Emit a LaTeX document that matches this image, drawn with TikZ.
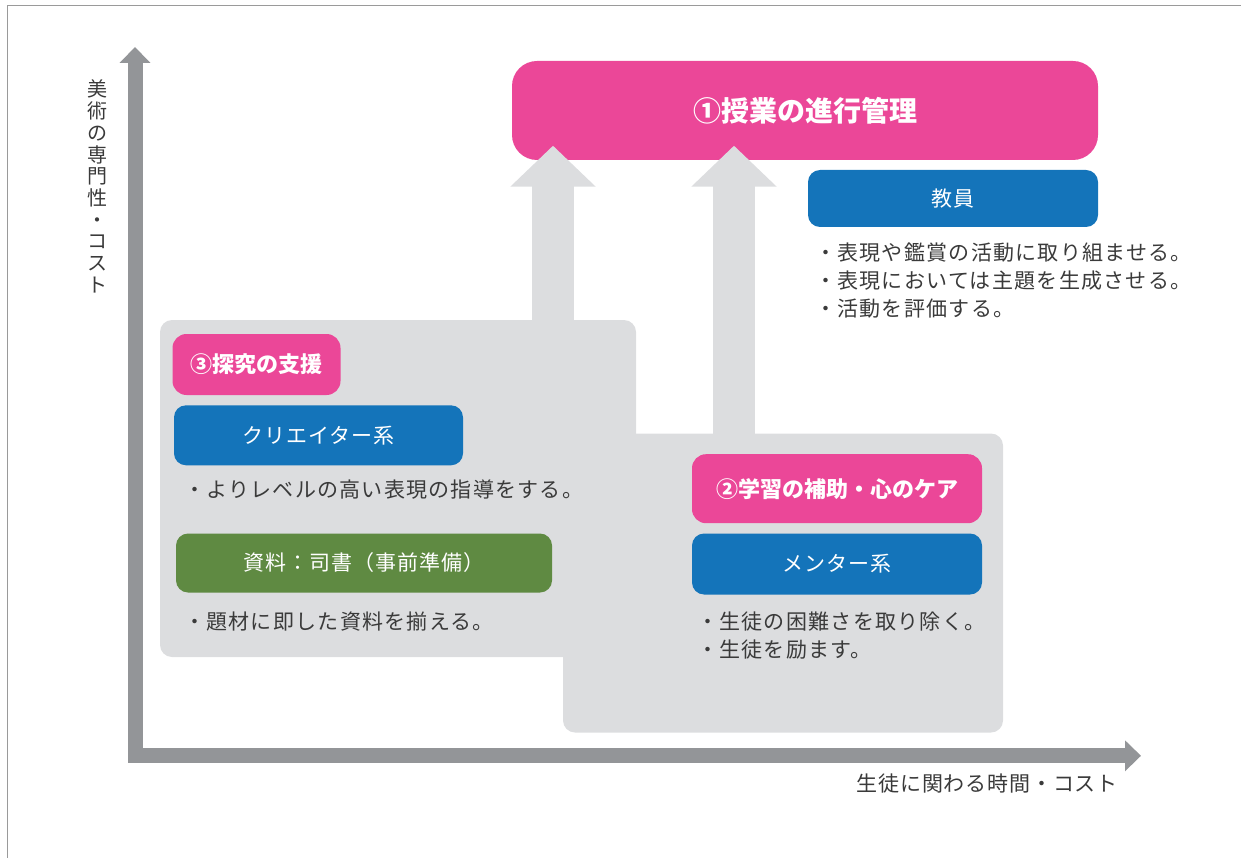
\documentclass[tikz,border=0pt]{standalone}
\usepackage{fontspec}
\setmainfont{Noto Sans CJK JP}
\usetikzlibrary{arrows.meta}
\definecolor{pinkc}{HTML}{EB4798}
\definecolor{bluec}{HTML}{1474BA}
\definecolor{greenc}{HTML}{5F8A42}
\definecolor{panelc}{HTML}{DCDDDF}
\definecolor{axisc}{HTML}{939598}
\definecolor{framec}{HTML}{9A9A9A}
\definecolor{textc}{HTML}{3A3A3A}
\tikzset{
  box/.style={inner sep=0pt, text=white},
  pinkbox/.style={box, fill=pinkc, font=\bfseries\fontsize{22}{26}\selectfont},
  bluebox/.style={box, fill=bluec, font=\fontsize{21}{25}\selectfont\addfontfeature{LetterSpace=5}, rounded corners=12pt},
  greenbox/.style={box, fill=greenc, font=\fontsize{21}{25}\selectfont\addfontfeature{LetterSpace=5}, rounded corners=12pt},
  panel/.style={fill=panelc, rounded corners=12pt, inner sep=0pt},
  note/.style={anchor=west, text=textc, align=left, inner sep=0pt, font=\fontsize{21}{28}\selectfont\addfontfeature{LetterSpace=6}},
  uparrow/.style={draw=panelc, line width=42pt, -{Triangle[width=83pt,length=41pt]}},
  axis/.style={draw=axisc, line width=15pt, line join=miter,
     {Triangle[width=30pt,length=16pt]}-{Triangle[width=30pt,length=16pt]}},
}
\begin{document}
\begin{tikzpicture}[x=1pt,y=-1pt]
\useasboundingbox (0,0) rectangle (1241,858);
% frame
\draw[framec, line width=1pt] (1241,6) -- (7,6) -- (7,858);

% panels
\node[panel, minimum width=476pt, minimum height=337pt] (panel3) at (398,488.5) {};
\node[panel, minimum width=440pt, minimum height=299pt] (panel2) at (783,583) {};

% top box
\node[pinkbox, rounded corners=25pt, minimum width=586pt, minimum height=99pt,
      font=\bfseries\fontsize{28}{32}\selectfont] (goal) at (805,110.5) {①授業の進行管理};

% up arrows
\coordinate (a1s) at (553,325);
\coordinate (a1t) at (553,145.7);
\coordinate (a2s) at (734,440);
\coordinate (a2t) at (734,145.7);
\draw[uparrow] (a1s) -- (a1t);
\draw[uparrow] (a2s) -- (a2t);

% teacher
\node[bluebox, minimum width=290pt, minimum height=57pt] (teacher) at (953,198.5) {教員};
\node[note] (tnote) at (815,281) {・表現や鑑賞の活動に取り組ませる。\\・表現においては主題を生成させる。\\・活動を評価する。};

% panel 3
\node[pinkbox, rounded corners=14pt, minimum width=168pt, minimum height=61pt] (p3) at (256.5,364.5) {③探究の支援};
\node[bluebox, minimum width=289pt, minimum height=60pt] (creator) at (318.5,435.3) {クリエイター系};
\node[note] (cnote) at (184,490) {・よりレベルの高い表現の指導をする。};
\node[greenbox, minimum width=376pt, minimum height=59pt] (library) at (364,563) {資料：司書（事前準備）};
\node[note] (lnote) at (184,621.5) {・題材に即した資料を揃える。};

% panel 2
\node[pinkbox, rounded corners=14pt, minimum width=290pt, minimum height=69pt] (p2) at (837,488.7) {②学習の補助・心のケア};
\node[bluebox, minimum width=290pt, minimum height=61pt] (mentor) at (837,564) {メンター系};
\node[note] (mnote) at (697,636) {・生徒の困難さを取り除く。\\・生徒を励ます。};

% axes
\coordinate (ytip) at (135,47);
\coordinate (origin) at (135,755.8);
\coordinate (xtip) at (1141,755.8);
\draw[axis] (ytip) -- (origin) -- (xtip);
\node[text=textc, inner sep=0pt, align=center, font=\fontsize{20}{21.7}\selectfont] (ylabel) at (97,186.5)
  {美\\術\\の\\専\\門\\性\\・\\コ\\ス\\ト};
\node[text=textc, inner sep=0pt, anchor=east, font=\fontsize{21}{24}\selectfont\addfontfeature{LetterSpace=4}] (xlabel) at (1118,784) {生徒に関わる時間・コスト};
\end{tikzpicture}
\end{document}
